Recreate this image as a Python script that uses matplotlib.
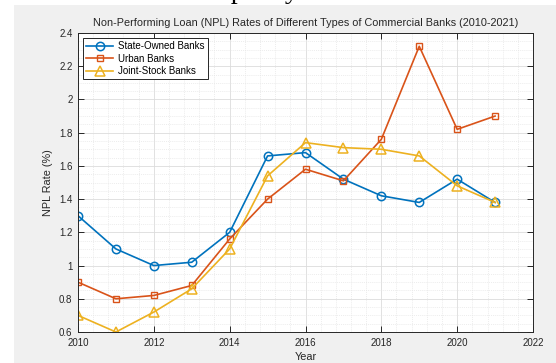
import matplotlib
matplotlib.use("Agg")
import matplotlib.pyplot as plt
from matplotlib.patches import Rectangle
from matplotlib.ticker import MultipleLocator

years = [2010, 2011, 2012, 2013, 2014, 2015, 2016, 2017, 2018, 2019, 2020, 2021]
state_owned = [1.30, 1.10, 1.00, 1.02, 1.20, 1.66, 1.68, 1.52, 1.42, 1.38, 1.52, 1.38]
urban = [0.90, 0.80, 0.82, 0.88, 1.16, 1.40, 1.58, 1.51, 1.76, 2.32, 1.82, 1.90]
joint_stock = [0.70, 0.60, 0.72, 0.86, 1.10, 1.54, 1.74, 1.71, 1.70, 1.66, 1.48, 1.38]
series_labels = ["State-Owned Banks", "Urban Banks", "Joint-Stock Banks"]
title = "Non-Performing Loan (NPL) Rates of Different Types of Commercial Banks (2010-2021)"

plt.rcParams['font.family'] = ['Liberation Sans', 'DejaVu Sans']

W, H = 556, 363
fig = plt.figure(figsize=(W / 100, H / 100), dpi=100)
fig.patch.set_facecolor('white')
fig.patches.append(Rectangle((14 / W, 0), 1 - 14 / W, 1 - 5 / H, transform=fig.transFigure,
                             facecolor='#f0f0f0', edgecolor='none', zorder=-10))
# cut-off text at top of picture (only descenders visible)
fig.text(200 / W, 1 + 2 / H, "Capacity and Risk Status of the Commercial Banking",
         family='Liberation Serif', fontsize=20, va='baseline', ha='left', color='black')

ax = fig.add_axes([78 / W, 1 - 332 / H, (533 - 78) / W, (332 - 33) / H])
ax.set_facecolor('white')

ax.plot(years, state_owned, '-o', color='#0072BD', lw=1.2, ms=6, mfc='none', mew=1.1, label=series_labels[0])
ax.plot(years, urban, '-s', color='#D95319', lw=1.2, ms=4.5, mfc='none', mew=1.0, label=series_labels[1])
ax.plot(years, joint_stock, '-^', color='#EDB120', lw=1.2, ms=6.5, mfc='none', mew=1.1, label=series_labels[2])

ax.set_xlim(2010, 2022)
ax.set_ylim(0.6, 2.4)
ax.xaxis.set_major_locator(MultipleLocator(2))
ax.xaxis.set_minor_locator(MultipleLocator(0.4))
ax.yaxis.set_minor_locator(MultipleLocator(0.05))
ax.set_yticks([0.6, 0.8, 1.0, 1.2, 1.4, 1.6, 1.8, 2.0, 2.2, 2.4])
ax.set_yticklabels(['0.6', '0.8', '1', '1.2', '1.4', '1.6', '1.8', '2', '2.2', '2.4'])

ax.grid(True, which='major', color='#dcdcdc', lw=0.6, ls='-')
ax.grid(True, which='minor', color='#e6e6e6', lw=0.5, ls=(0, (1.5, 1.5)))
ax.set_axisbelow(True)
ax.tick_params(which='major', direction='in', top=True, right=True, length=4, width=0.7,
               labelsize=7, colors='#262626', pad=4)
ax.tick_params(which='minor', length=0, top=True, right=True)
for s in ax.spines.values():
    s.set_color('#262626')
    s.set_linewidth(0.7)

ax.set_title(title, fontsize=7.8, color='#262626', pad=5)
ax.set_xlabel('Year', fontsize=7.8, color='#262626', labelpad=3)
ax.set_ylabel('NPL Rate (%)', fontsize=7.8, color='#262626', labelpad=4)

leg = ax.legend(loc='upper left', fontsize=7, frameon=True, fancybox=False,
                edgecolor='#262626', framealpha=1, borderaxespad=0.55,
                handlelength=2.8, handletextpad=0.5, borderpad=0.3, labelspacing=0.25)
leg.get_frame().set_linewidth(0.7)

fig.savefig('out.png', dpi=100, facecolor=fig.get_facecolor())
